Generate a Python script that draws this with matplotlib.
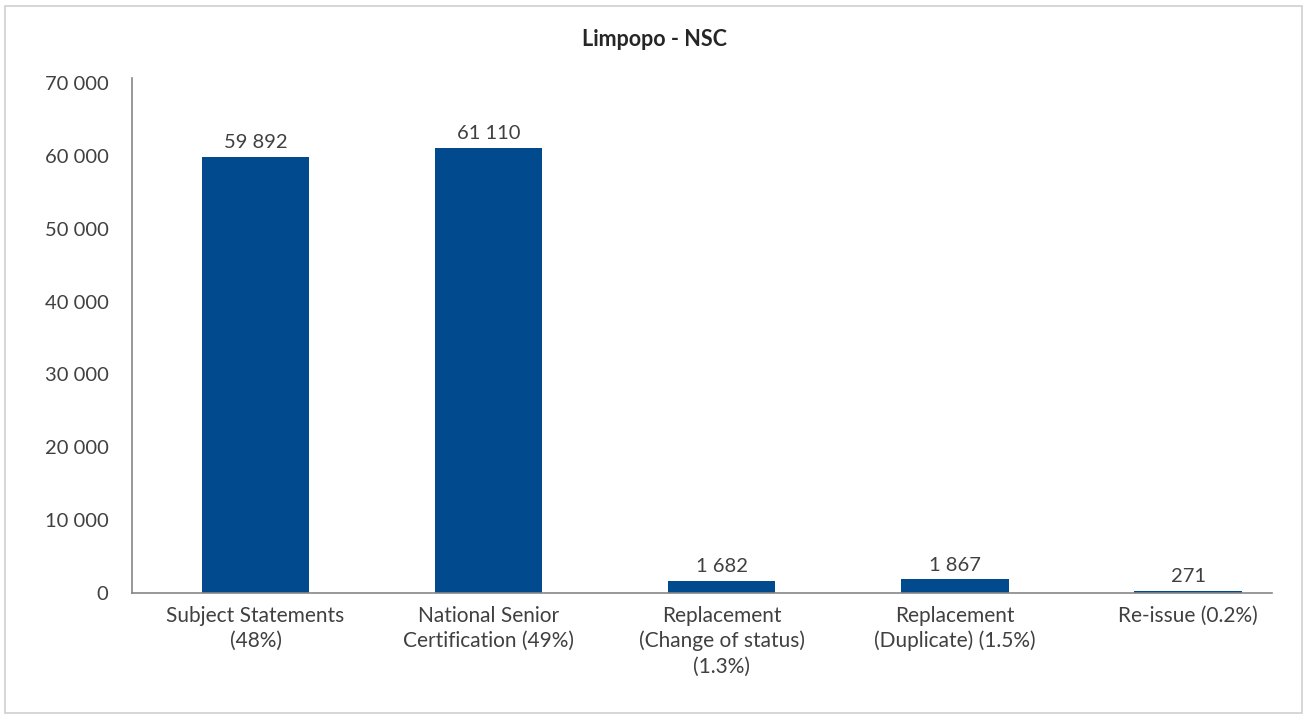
import matplotlib.pyplot as plt
from matplotlib.patches import Rectangle
from matplotlib.ticker import FuncFormatter

categories = [
    "Subject Statements\n(48%)",
    "National Senior\nCertification (49%)",
    "Replacement\n(Change of status)\n(1.3%)",
    "Replacement\n(Duplicate) (1.5%)",
    "Re-issue (0.2%)",
]
counts = [59892, 61110, 1682, 1867, 271]
y_ticks = [0, 10000, 20000, 30000, 40000, 50000, 60000, 70000]

bar_color = "#004a8d"
text_color = "#404040"
axis_color = "#868686"

plt.rcParams["font.family"] = ["Lato", "DejaVu Sans"]


def spaced(v, _pos=None):
    return f"{int(v):,}".replace(",", " ")


fig = plt.figure(figsize=(13.07, 7.18), dpi=100)
ax = fig.add_axes([132 / 1307, 1 - 593 / 718, 1140 / 1307, 515 / 718])

x = list(range(len(categories)))
ax.bar(x, counts, width=0.46, color=bar_color)

# value labels above each bar
for xi, v in zip(x, counts):
    ax.annotate(spaced(v), (xi, v), xytext=(0, 4), textcoords="offset points",
                ha="center", va="bottom", fontsize=14.5, color=text_color)

ax.set_xlim(-0.53, 4.36)
ax.set_ylim(0, 70700)
ax.set_yticks(y_ticks)
ax.yaxis.set_major_formatter(FuncFormatter(spaced))
ax.set_xticks(x)
ax.set_xticklabels(categories, linespacing=1.32)

ax.tick_params(axis="both", length=0, labelcolor=text_color)
ax.tick_params(axis="x", pad=9, labelsize=15)
ax.tick_params(axis="y", pad=17, labelsize=14.5)

for side in ("top", "right"):
    ax.spines[side].set_visible(False)
for side in ("left", "bottom"):
    ax.spines[side].set_color(axis_color)
    ax.spines[side].set_linewidth(1.2)

fig.text(655 / 1307, 1 - 40 / 718, "Limpopo - NSC", ha="center", va="center",
         fontsize=15.5, fontweight="bold", color="#262626")

# light frame around the whole chart
fig.patches.append(Rectangle((5 / 1307, 5 / 718), 1297 / 1307, 707 / 718,
                             transform=fig.transFigure, fill=False,
                             edgecolor="#d0d0d0", linewidth=1.2))

fig.savefig("out.png", dpi=100)
